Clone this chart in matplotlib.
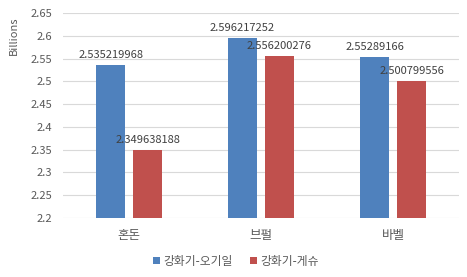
import matplotlib.pyplot as plt
import numpy as np

plt.rcParams['font.family'] = ['Noto Sans CJK KR', 'DejaVu Sans']

categories = ['혼돈', '브펄', '바벨']
series_names = ['강화기-오기일', '강화기-게슈']
oggi_values = [2.535219968, 2.596217252, 2.55289166]
gesu_values = [2.349638188, 2.556200276, 2.500799556]
y_ticks = [2.2, 2.25, 2.3, 2.35, 2.4, 2.45, 2.5, 2.55, 2.6, 2.65]

fig = plt.figure(figsize=(4.67, 2.77), dpi=100)
ax = fig.add_axes([0.135, 0.213, 0.848, 0.74])

x = np.arange(len(categories))
width = 0.22
offset = 0.14
colors = ['#4F81BD', '#C0504D']

for vals, name, col, sign in zip([oggi_values, gesu_values], series_names, colors, [-1, 1]):
    bars = ax.bar(x + sign * offset, vals, width, color=col, label=name, zorder=3)
    for b, v in zip(bars, vals):
        ax.text(b.get_x() + b.get_width() / 2, v + 0.011, str(v),
                ha='center', va='bottom', fontsize=8, color='#404040', zorder=4)

ax.set_xlim(-0.5, len(categories) - 0.5)
ax.set_ylim(2.2, 2.65)
ax.set_yticks(y_ticks)
ax.set_yticklabels([f'{t:g}' for t in y_ticks])
ax.set_xticks(x)
ax.set_xticklabels(categories)
ax.tick_params(axis='both', length=0, labelsize=8, colors='#595959')
ax.tick_params(axis='x', pad=8, labelsize=9)
ax.tick_params(axis='y', pad=8)
ax.grid(axis='y', color='#D9D9D9', linewidth=0.8, zorder=0)
for s in ax.spines.values():
    s.set_visible(False)

fig.text(0.03, 0.87, 'Billions', rotation=90, ha='center', va='center',
         fontsize=8, color='#595959')

leg = fig.legend(loc='lower center', bbox_to_anchor=(0.505, -0.005), ncol=2, frameon=False,
                 fontsize=8.5, handlelength=0.6, handleheight=0.6, handletextpad=0.3,
                 columnspacing=1.4, labelcolor='#595959')

fig.savefig('out.png', dpi=100)
